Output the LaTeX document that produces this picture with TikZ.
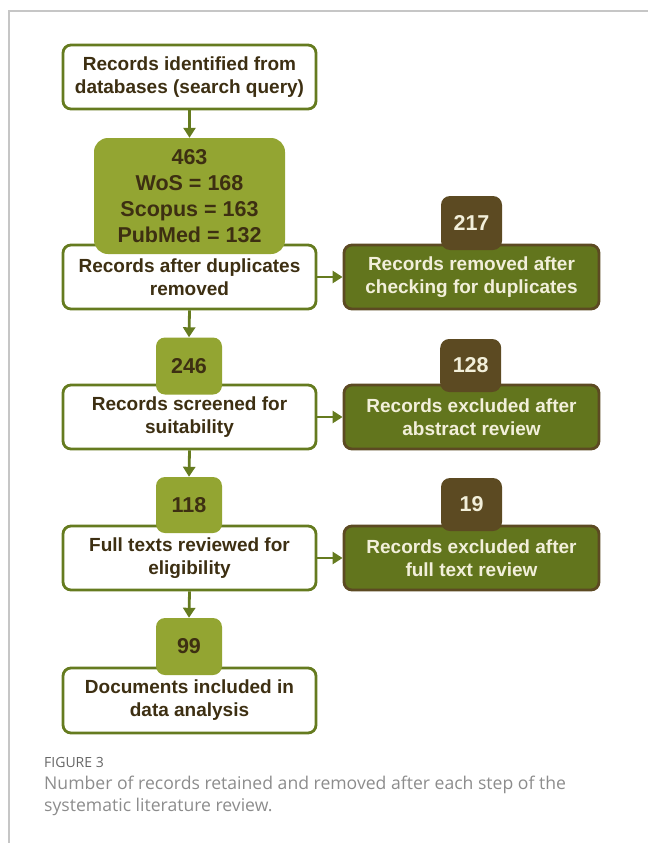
\documentclass[tikz,border=0pt]{standalone}
\usepackage{fontspec}
\usetikzlibrary{arrows.meta}
\newfontfamily\boxfont{Liberation Sans}
\newfontfamily\capfont{Open Sans}
\definecolor{olive}{HTML}{657B1F}
\definecolor{leaf}{HTML}{93A532}
\definecolor{bark}{HTML}{5C4A22}
\definecolor{moss}{HTML}{62751D}
\definecolor{ink}{HTML}{3D2F12}
\definecolor{cream}{HTML}{F2EFDA}
\tikzset{
  stepbox/.style={draw=olive,line width=2.8pt,rounded corners=8pt,fill=white,
    minimum width=253pt,minimum height=64pt,align=center,text=ink,
    font=\boxfont\bfseries\fontsize{19}{23}\selectfont},
  outbox/.style={stepbox,draw=bark,fill=moss,text=cream,minimum width=255pt},
  countbox/.style={fill=leaf,rounded corners=9pt,text=ink,align=center,
    minimum width=66pt,minimum height=57pt,
    font=\boxfont\bfseries\fontsize{21.5}{26}\selectfont},
  dropbox/.style={countbox,fill=bark,text=cream,minimum width=61pt,minimum height=54pt},
  flow/.style={draw=olive,line width=2.8pt,-{Triangle[width=12pt,length=10pt]}}
}
\begin{document}
\begin{tikzpicture}[x=1pt,y=-1pt]
  \useasboundingbox (0,0) rectangle (648,843);
  \draw[gray!45,line width=1.2pt] (9,843)--(9,11)--(648,11);
  % left column
  \node[stepbox] (ident) at (189.5,77) {Records identified from\\databases (search query)};
  \node[stepbox] (dedup) at (189.5,277) {Records after duplicates\\removed};
  \node[stepbox] (screen) at (189.5,417) {Records screened for\\suitability};
  \node[stepbox] (full) at (189.5,558) {Full texts reviewed for\\eligibility};
  \node[stepbox,minimum height=65pt] (incl) at (189.5,700.5) {Documents included in\\data analysis};
  % right column
  \node[outbox] (rmdup) at (471.5,277) {Records removed after\\checking for duplicates};
  \node[outbox] (rmabs) at (471.5,417) {Records excluded after\\abstract review};
  \node[outbox] (rmfull) at (471.5,558) {Records excluded after\\full text review};
  % counts
  \node[countbox,rounded corners=14pt,minimum width=191pt,minimum height=116pt] (total) at (189.5,196)
    {463\\WoS = 168\\Scopus = 163\\PubMed = 132};
  \node[countbox] (kept1) at (189,366) {246};
  \node[countbox,minimum height=56pt] (kept2) at (189,505) {118};
  \node[countbox] (kept3) at (189,646.5) {99};
  \node[dropbox] (drop1) at (471.5,223) {217};
  \node[dropbox,minimum height=53pt] (drop2) at (470.7,365.5) {128};
  \node[dropbox,minimum height=53pt] (drop3) at (471.5,504.5) {19};
  % connectors
  \foreach \a/\b in {ident/total,dedup/kept1,screen/kept2,full/kept3}{\draw[flow] (\a.south)--(\b.north);}
  \foreach \a/\b in {dedup/rmdup,screen/rmabs,full/rmfull}{\draw[flow] (\a.east)--(\b.west);}
  % caption
  \node[anchor=base west,inner sep=0pt,text=black!60,font=\capfont\fontsize{14}{16}\selectfont] (fig) at (44,767) {FIGURE 3};
  \node[anchor=base west,inner sep=0pt,text=black!45,font=\capfont\fontsize{17.6}{22}\selectfont] (cap1) at (44,789)
    {Number of records retained and removed after each step of the};
  \node[anchor=base west,inner sep=0pt,text=black!45,font=\capfont\fontsize{17.6}{22}\selectfont] (cap2) at (44,811)
    {systematic literature review.};
\end{tikzpicture}
\end{document}
